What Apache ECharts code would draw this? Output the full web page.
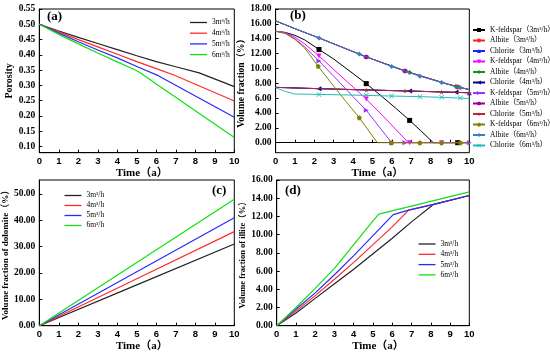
<!DOCTYPE html>
<html><head><meta charset="utf-8">
<script src="https://cdn.jsdelivr.net/npm/echarts@6/dist/echarts.min.js"></script>
<style>html,body{margin:0;padding:0;background:#fff}#c{width:550px;height:353px}</style>
</head><body><div id="c"></div>
<script>
// ---------- data ----------
const rateNames = ['3m³/h', '4m³/h', '5m³/h', '6m³/h'];
const xTicks = [0,1,2,3,4,5,6,7,8,9,10];
const porosityTicks = [0.10,0.15,0.20,0.25,0.30,0.35,0.40,0.45,0.50,0.55];
const volTicks = [0,2,4,6,8,10,12,14,16,18];
const doloTicks = [0,10,20,30,40,50];
const illiteTicks = [0,2,4,6,8,10,12,14,16];

// (a) porosity
const poro3 = [[0,0.5],[1,0.478],[2,0.457],[3,0.437],[4,0.417],[5,0.397],[6,0.378],[7,0.361],[8.2,0.341],[10,0.296]];
const poro4 = [[0,0.5],[1,0.475],[2,0.45],[3,0.426],[4,0.402],[5,0.378],[6,0.355],[6.9,0.334],[10,0.249]];
const poro5 = [[0,0.5],[1,0.471],[2,0.443],[3,0.416],[4,0.39],[5,0.362],[6.1,0.332],[10,0.196]];
const poro6 = [[0,0.5],[1,0.467],[2,0.436],[3,0.406],[4,0.377],[5,0.348],[5.25,0.338],[6,0.305],[10,0.13]];

// (b) volume fraction of minerals: [time, value]; *Marks = times where a marker is drawn
const kf3 = [[0,15],[0.5,14.85],[1,14.45],[1.5,13.85],[2.24,12.55],[3,11.26],[4,9.3],[4.68,7.95],[5.5,6.2],[6.2,4.65],[6.92,3.0],[7.5,1.6],[8.14,0],[9.4,0],[10,0]];
const kf3Marks = [2.24,4.68,6.92,9.4];
const ab3 = [[0,16.4],[1,15.35],[2.24,14.1],[4.68,11.55],[6.92,9.45],[9.4,7.5],[10,7.15]];
const ab3Marks = [9.4];
const ch3 = [[0,7.45],[2.24,7.27],[4.68,7.1],[6.92,6.95],[9.4,6.77],[10,6.72]];
const ch3Marks = [10];
const kf4 = [[0,15],[0.5,14.8],[1,14.2],[1.5,13.3],[2.24,11.67],[3,9.85],[4,7.5],[4.68,5.88],[5.8,2.9],[6.85,0],[6.92,0],[8.57,0],[10,0]];
const kf4Marks = [2.24,4.68,6.92,8.57];
const ab4 = [[0,16.4],[1,15.35],[2.24,14.1],[4.68,11.55],[6.92,9.45],[9.31,7.55],[10,7.15]];
const ab4Marks = [6.92,9.31];
const ch4 = [[0,7.45],[2.24,7.27],[4.68,7.1],[6.92,6.95],[9.31,6.78],[10,6.72]];
const ch4Marks = [2.24,6.92,9.31];
const kf5 = [[0,15],[0.5,14.75],[1,14.0],[1.5,12.9],[2.24,11.0],[3,8.95],[4,6.2],[4.68,4.36],[5.3,2.3],[5.99,0],[6.68,0],[9.54,0],[10,0]];
const kf5Marks = [2.24,4.68,5.99,6.68,10];
const ab5 = [[0,16.4],[1,15.35],[2.24,14.1],[4.68,11.55],[6.68,9.65],[8.57,8.1],[10,7.15]];
const ab5Marks = [4.68,6.68];
const ch5 = [[0,7.45],[2.24,7.27],[4.68,7.1],[6.68,6.98],[8.57,6.83],[10,6.72]];
const ch5Marks = [4.68,6.68,8.57,10];
const kf6 = [[0,15],[0.5,14.7],[1,13.9],[1.5,12.75],[2.2,10.28],[3,7.6],[3.6,5.65],[4.32,3.37],[5.25,0],[5.99,0],[7.45,0],[8.57,0],[9.54,0],[10,0]];
const kf6Marks = [2.2,4.32,5.99,7.45,8.57,9.54];
const ab6 = [[0,16.4],[1,15.35],[2.24,14.1],[3.3,13.0],[4.32,11.95],[5.2,11.05],[5.99,10.25],[7.45,8.95],[8.57,8.1],[9.54,7.4],[10,7.15]];
const ab6Marks = [2.24,4.32,5.99,7.45,8.57,9.54];
const ch6 = [[0,7.4],[0.5,6.9],[1,6.55],[2.24,6.5],[4.68,6.37],[5.99,6.28],[7.45,6.2],[8.57,6.1],[9.54,6.0],[10,5.95]];
const ch6Marks = [2.24,4.68,5.99,7.45,8.57,9.54];

// (c) dolomite
const dolo3 = [[0,0],[5,15.5],[10,31.0]];
const dolo4 = [[0,0],[5,17.85],[10,35.7]];
const dolo5 = [[0,0],[5,20.5],[10,41.0]];
const dolo6 = [[0,0],[5,24.0],[10,48.0]];

// (d) illite
const ill3 = [[0,0],[1,1.4],[2,3.0],[3,4.6],[4,6.2],[5,7.9],[6,9.6],[7,11.4],[8.15,13.33],[10,14.3]];
const ill4 = [[0,0],[1,1.6],[2,3.3],[3,5.1],[4,6.95],[5,8.9],[6,10.85],[6.85,12.7],[8.15,13.33],[10,14.3]];
const ill5 = [[0,0],[1,1.8],[2,3.6],[3,5.6],[4,7.7],[5,9.9],[6.05,12.2],[6.85,12.7],[8.15,13.33],[10,14.3]];
const ill6 = [[0,0],[1,2.0],[2,4.1],[3,6.3],[4,8.9],[5,11.5],[5.3,12.25],[10,14.7]];

// ---------- styling ----------
const SERIF = "'Liberation Serif','Noto Sans CJK SC',serif";
const SANS = "'Liberation Sans',Arial,sans-serif";
const rateColors = ['#222222', '#ff2a2a', '#2a2aff', '#10e010'];

const grids = [
  {left: 39.3, top: 9, width: 195, height: 143.7},
  {left: 275.6, top: 9, width: 193.7, height: 143.7},
  {left: 39.3, top: 180, width: 195, height: 145.7},
  {left: 276.7, top: 180, width: 192.6, height: 145.7}
].map(g => Object.assign({show: true, borderColor: '#000', borderWidth: 1, containLabel: false}, g));

function xAx(gi) {
  return {
    type: 'value', gridIndex: gi, min: 0, max: 10,
    axisLine: {lineStyle: {color: '#000', width: 1}},
    axisTick: {inside: true, length: 3, customValues: xTicks, lineStyle: {color: '#000'}},
    axisLabel: {customValues: xTicks, color: '#000', fontFamily: SANS, fontWeight: 'bold', fontSize: 9.5, margin: 4},
    splitLine: {show: false},
    name: 'Time（a）', nameLocation: 'middle', nameGap: gi < 2 ? 14 : 13,
    nameTextStyle: {fontFamily: SERIF, fontWeight: 'bold', fontSize: 11, color: '#000', padding: [0, 0, 0, 10]}
  };
}
function yAx(gi, min, max, ticks, name, gap, fs) {
  return {
    type: 'value', gridIndex: gi, min: min, max: max,
    axisLine: {show: true, lineStyle: {color: '#000', width: 1}},
    axisTick: {show: true, inside: true, length: 3, customValues: ticks, lineStyle: {color: '#000'}},
    axisLabel: {customValues: ticks, color: '#000', fontFamily: SERIF, fontWeight: 'bold', fontSize: 9.5, margin: 4,
      formatter: v => Number(v).toFixed(2)},
    splitLine: {show: false},
    name: name, nameLocation: 'middle', nameGap: gap, nameRotate: 90,
    nameTextStyle: {fontFamily: SERIF, fontWeight: 'bold', fontSize: fs, color: '#000'}
  };
}

const series = [];
function plainLine(prefix, idx, arr, gi) {
  series.push({
    name: prefix + rateNames[idx], type: 'line', xAxisIndex: gi, yAxisIndex: gi,
    data: arr, symbol: 'none', showSymbol: false, smooth: false,
    lineStyle: {color: rateColors[idx], width: 1.2}, itemStyle: {color: rateColors[idx]},
    animation: false, z: 2 + idx
  });
}
[poro3, poro4, poro5, poro6].forEach((a, i) => plainLine('a:', i, a, 0));
[dolo3, dolo4, dolo5, dolo6].forEach((a, i) => plainLine('c:', i, a, 2));
[ill3, ill4, ill5, ill6].forEach((a, i) => plainLine('d:', i, a, 3));

const HEX = 'path://M0,-1L0.866,-0.5L0.866,0.5L0,1L-0.866,0.5L-0.866,-0.5Z';
const STAR = 'path://M0,-1L0.22,-0.3L0.95,-0.31L0.36,0.12L0.59,0.81L0,0.38L-0.59,0.81L-0.36,0.12L-0.95,-0.31L-0.22,-0.3Z';
const PENT = 'path://M0,-1L0.95,-0.31L0.59,0.81L-0.59,0.81L-0.95,-0.31Z';
const CROSS = 'path://M-1,-0.8L-0.8,-1L0,-0.2L0.8,-1L1,-0.8L0.2,0L1,0.8L0.8,1L0,0.2L-0.8,1L-1,0.8L-0.2,0Z';

const bDefs = [
  ['K-feldspar（3m³/h）', kf3, kf3Marks, '#000000', 'rect', 0],
  ['Albite（3m³/h）', ab3, ab3Marks, '#ff2020', 'circle', 0],
  ['Chlorite（3m³/h）', ch3, ch3Marks, '#2020ff', 'triangle', 0],
  ['K-feldspar（4m³/h）', kf4, kf4Marks, '#ff00ff', 'triangle', 180],
  ['Albite（4m³/h）', ab4, ab4Marks, '#119911', 'diamond', 0],
  ['Chlorite（4m³/h）', ch4, ch4Marks, '#000080', 'triangle', 90],
  ['K-feldspar（5m³/h）', kf5, kf5Marks, '#9933ff', 'triangle', -90],
  ['Albite（5m³/h）', ab5, ab5Marks, '#990099', HEX, 0],
  ['Chlorite（5m³/h）', ch5, ch5Marks, '#b02a3a', STAR, 0],
  ['K-feldspar（6m³/h）', kf6, kf6Marks, '#808000', PENT, 0],
  ['Albite（6m³/h）', ab6, ab6Marks, '#3a7fc0', 'diamond', 0],
  ['Chlorite（6m³/h）', ch6, ch6Marks, '#22bcbc', CROSS, 0]
];
bDefs.forEach((d, i) => {
  const [name, arr, marks, color, sym, rot] = d;
  series.push({
    name: name, type: 'line', xAxisIndex: 1, yAxisIndex: 1,
    data: arr.map(p => marks.includes(p[0]) ? {value: p} : {value: p, symbol: 'none'}),
    symbol: sym, symbolRotate: rot, symbolSize: 5, showSymbol: true, showAllSymbol: true,
    lineStyle: {color: color, width: 1}, itemStyle: {color: color},
    animation: false, z: 2 + i
  });
});

const legText = {fontFamily: SERIF, fontSize: 7.5, color: '#000', lineHeight: 8};
const strip = n => n.replace(/^[a-d]:/, '');
const legends = [
  {data: rateNames.map(n => 'a:' + n), left: 190, top: 18.5, itemGap: 2.7},
  {data: rateNames.map(n => 'c:' + n), left: 64.5, top: 191.5, itemGap: 2},
  {data: rateNames.map(n => 'd:' + n), left: 418.5, top: 240, itemGap: 2.3}
].map(l => Object.assign({orient: 'vertical', icon: 'rect', itemWidth: 17, itemHeight: 1.3, padding: 0,
  textStyle: legText, formatter: strip, selectedMode: false}, l));
legends.push({
  data: bDefs.map(d => d[0]), orient: 'vertical', left: 472, top: 26, itemWidth: 12, itemHeight: 5,
  itemGap: 2.5, padding: 0, textStyle: legText, selectedMode: false
});

const panelLabel = (t, x, y) => ({type: 'text', left: x, top: y,
  style: {text: t, font: "bold 13px 'Liberation Serif',serif", fill: '#000'}});

const option = {
  backgroundColor: '#fff',
  animation: false,
  grid: grids,
  xAxis: [xAx(0), xAx(1), xAx(2), xAx(3)],
  yAxis: [
    yAx(0, 0.08, 0.55, porosityTicks, 'Porosity', 21, 10),
    yAx(1, -1.35, 18, volTicks, 'Volume fraction（%）', 25, 9.5),
    yAx(2, 0, 55.3, doloTicks, 'Volume fraction of dolomite（%）', 27, 9),
    yAx(3, 0, 16, illiteTicks, 'Volume fraction of illite（%）', 26, 8.5)
  ],
  legend: legends,
  series: series,
  graphic: [
    panelLabel('(a)', 47, 10),
    panelLabel('(b)', 290, 9),
    panelLabel('(c)', 212, 184),
    panelLabel('(d)', 285, 184)
  ]
};
const chart = echarts.init(document.getElementById('c'), null, {renderer: 'canvas'});
chart.setOption(option);
</script></body></html>
